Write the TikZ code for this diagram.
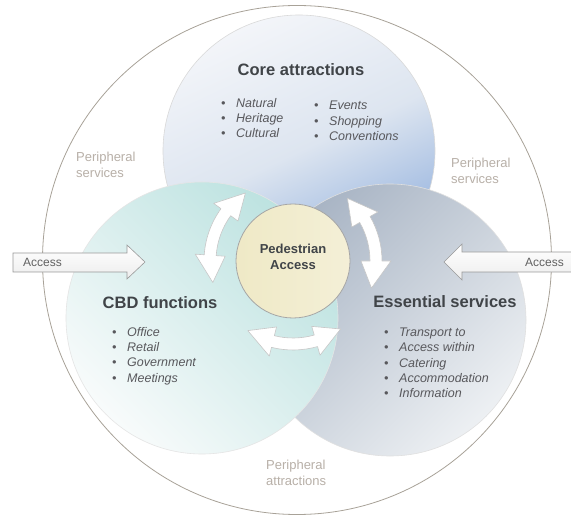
\documentclass[tikz,border=0pt]{standalone}
\usepackage{fontspec}
\setmainfont{Liberation Sans}
\usepackage{xcolor}
\usetikzlibrary{positioning}

\definecolor{coretop}{HTML}{F3F5F9}
\definecolor{coremid}{HTML}{DDE5F0}
\definecolor{corebot}{HTML}{8DADDC}
\definecolor{cbdteal}{HTML}{BCE2E0}
\definecolor{cbdpale}{HTML}{F8FBFB}
\definecolor{essgray}{HTML}{A8B4C4}
\definecolor{esspale}{HTML}{EDF0F3}
\definecolor{pedfill}{HTML}{EFE9C6}
\definecolor{rimgray}{HTML}{A8A298}
\definecolor{titlegray}{HTML}{404448}
\definecolor{listgray}{HTML}{58585C}
\definecolor{periphgray}{HTML}{B8B0A8}

\newcommand{\dotitem}[1]{\makebox[15pt][l]{\textbullet}#1}

\begin{document}
\begin{tikzpicture}[
    x=1pt, y=1pt,
    region/.style={circle, inner sep=0pt, minimum size=272pt, line width=0.6pt},
    title/.style={font=\fontsize{16.5}{20}\selectfont\bfseries, text=titlegray, inner sep=0pt},
    itemlist/.style={font=\fontsize{12.5}{15.3}\selectfont\itshape, text=listgray, align=left, inner sep=0pt, anchor=west},
    periph/.style={font=\fontsize{13}{16}\selectfont, text=periphgray, align=left, inner sep=0pt, anchor=west},
    swirl/.style={fill=white, draw=black!22, line width=0.6pt, line join=round},
    entry/.style={draw=black!40, line width=0.6pt, top color=white, bottom color=black!7},
    entrytext/.style={font=\fontsize{12}{14}\selectfont, text=black!62, inner sep=0pt}
]
\useasboundingbox (0,0) rectangle (571,515);

% outer ring
\node[circle, inner sep=0pt, minimum size=509pt, draw=rimgray, line width=0.8pt, fill=white] (outer) at (297,255) {};

% the three overlapping areas
\node[region, draw=black!15, top color=coretop, bottom color=corebot, middle color=coremid, shading angle=25] (core) at (299,364) {};
\node[region, draw=black!12, top color=essgray, bottom color=esspale, shading angle=45] (ess) at (390,195) {};
\node[region, draw=black!10, top color=cbdteal, bottom color=cbdpale, shading angle=-45] (cbd) at (202,197) {};

% centre
\node[circle, inner sep=0pt, minimum size=114pt, draw=black!35, line width=0.8pt, left color=pedfill, right color=pedfill!70!white] (ped) at (293,254) {};
\node[font=\fontsize{13}{16}\selectfont\bfseries, text=titlegray, align=center, inner sep=0pt] (pedtext) at (293,258) {Pedestrian\\Access};

% two-way arrows round the centre
\begin{scope}[shift={(ped.center)}]
\foreach \s/\e in {125/195, -19/49, 237/305} {
  \draw[swirl] (\s:83) -- ({\s+19}:98) -- ({\s+19}:89)
    arc[start angle=\s+19, end angle=\e-19, radius=89]
    -- ({\e-19}:98) -- (\e:83) -- ({\e-19}:68) -- ({\e-19}:77)
    arc[start angle=\e-19, end angle=\s+19, radius=77]
    -- ({\s+19}:68) -- cycle;
}
\end{scope}

% access from outside
\draw[entry] (13,243) -- (127,243) -- (127,236) -- (145,253) -- (127,270) -- (127,262) -- (13,262) -- cycle;
\node[entrytext, anchor=west] (accessL) at (23,253) {Access};
\draw[entry] (572,243) -- (462,243) -- (462,235) -- (444,253) -- (462,271) -- (462,263) -- (572,263) -- cycle;
\node[entrytext, anchor=west] (accessR) at (525,253) {Access};

% core attractions
\node[title] (coretitle) at (301,445) {Core attractions};
\node[itemlist] (corelistA) at (221,397) {\dotitem{Natural}\\\dotitem{Heritage}\\\dotitem{Cultural}};
\node[itemlist] (corelistB) at (314,394) {\dotitem{Events}\\\dotitem{Shopping}\\\dotitem{Conventions}};

% CBD functions
\node[title] (cbdtitle) at (160,212) {CBD functions};
\node[itemlist] (cbdlist) at (112,159) {\dotitem{Office}\\\dotitem{Retail}\\\dotitem{Government}\\\dotitem{Meetings}};

% essential services
\node[title] (esstitle) at (445,213) {Essential services};
\node[itemlist] (esslist) at (384,152) {\dotitem{Transport to}\\\dotitem{Access within}\\\dotitem{Catering}\\\dotitem{Accommodation}\\\dotitem{Information}};

% peripheral labels
\node[periph] (periphL) at (76,350) {Peripheral\\services};
\node[periph] (periphR) at (451,344) {Peripheral\\services};
\node[periph] (periphB) at (266,42) {Peripheral\\attractions};

\end{tikzpicture}
\end{document}
